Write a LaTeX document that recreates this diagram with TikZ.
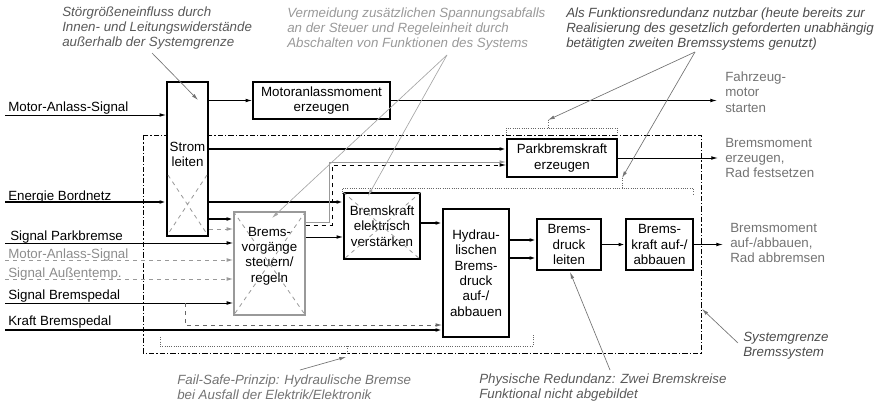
\documentclass[tikz,border=0pt]{standalone}
\usepackage{fontspec}
\setmainfont{Liberation Sans}
\usetikzlibrary{arrows.meta}
\newcommand{\pxu}{0.75pt}

\tikzset{
  blk/.style={draw, fill=white, line width=1.2pt, align=center, inner sep=0pt},
  grblk/.style={draw=black!40, fill=white, line width=1pt, inner sep=0pt},
  kreuz/.style={draw=black!40, dashed, line width=0.6pt},
  pfeil/.style={-{Latex[length=5pt,width=2.8pt]}, line width=0.7pt},
  dickpfeil/.style={pfeil, line width=1.4pt},
  sigdash/.style={pfeil, dashed, draw=black!40},
  grenze/.style={line width=0.7pt, dash pattern=on 4pt off 1.6pt on 0.8pt off 1.6pt},
  klammer/.style={draw=black!60, densely dotted, line width=0.7pt},
  anm/.style={font=\fontsize{10}{11.5}\selectfont\itshape, align=left, anchor=west, inner sep=0pt},
  anmlinie/.style={draw=black!55, line width=0.5pt, -{Latex[length=5pt,width=2.6pt]}},
  ausg/.style={text=black!55, align=left, anchor=west, inner sep=0pt},
  eing/.style={anchor=base west, inner sep=0pt},
}

\begin{document}
\begin{tikzpicture}[x=\pxu, y=-\pxu, font=\fontsize{10}{11.5}\selectfont]
    \useasboundingbox (0,0) rectangle (884,406);

    % 系统边界
    \draw[grenze] (143,135) rectangle (701,353);

    % 定义方框
    \node[blk, minimum width=41*\pxu, minimum height=154*\pxu] (strom) at (187.5,159) {};
    \node[align=center] (stromtxt) at (187.5,154.5) {Strom\\leiten};
    \node[blk, minimum width=137*\pxu, minimum height=37*\pxu] (motor) at (321.5,100.5) {Motoranlassmoment\\erzeugen};
    \node[blk, minimum width=110*\pxu, minimum height=38*\pxu] (park) at (562,158) {Parkbremskraft\\erzeugen};
    \node[grblk, minimum width=71*\pxu, minimum height=103*\pxu] (vorg) at (269.5,263.5) {};
    \node[align=center] (vorgtxt) at (269.5,256) {Brems-\\vorgänge\\steuern/\\regeln};
    \node[blk, minimum width=76*\pxu, minimum height=66*\pxu] (verst) at (382,226) {Bremskraft\\elektrisch\\verstärken};
    \node[blk, minimum width=66*\pxu, minimum height=128*\pxu] (hydr) at (476,273) {Hydrau-\\lischen\\Brems-\\druck\\auf-/\\abbauen};
    \node[blk, minimum width=64*\pxu, minimum height=51*\pxu] (druck) at (569,244.5) {Brems-\\druck\\leiten};
    \node[blk, minimum width=67*\pxu, minimum height=51*\pxu] (kraft) at (659.5,244.5) {Brems-\\kraft auf-/\\abbauen};

    % 虚线叉
    \draw[kreuz] (168,175) -- (207,234) (207,175) -- (168,234);
    \draw[kreuz] (vorg.north west) -- (vorg.south east) (vorg.north east) -- (vorg.south west);
    \draw[kreuz] (verst.north west) -- (verst.south east) (verst.north east) -- (verst.south west);

    % 输入信号
    \coordinate (e1) at (5,115);
    \coordinate (e2) at (5,202);
    \coordinate (e3) at (5,243);
    \coordinate (e4) at (5,260);
    \coordinate (e5) at (5,279);
    \coordinate (e6) at (5,303);
    \coordinate (e7) at (5,330);
    \coordinate (abzw) at (185,303);
    \node[eing] (l1) at (8,112) {Motor-Anlass-Signal};
    \node[eing] (l2) at (8,200) {Energie Bordnetz};
    \node[eing] (l3) at (10,240) {Signal Parkbremse};
    \node[eing, text=black!45] (l4) at (8,258) {Motor-Anlass-Signal};
    \node[eing, text=black!45] (l5) at (8,277) {Signal Außentemp.};
    \node[eing] (l6) at (8,299) {Signal Bremspedal};
    \node[eing] (l7) at (8,325) {Kraft Bremspedal};
    \draw[pfeil] (e1) -- (e1 -| strom.west);
    \draw[dickpfeil] (e2) -- (e2 -| strom.west);
    \draw[pfeil] (e3) -- (e3 -| vorg.west);
    \draw[sigdash] (e4) -- (e4 -| vorg.west);
    \draw[sigdash] (e5) -- (e5 -| vorg.west);
    \draw[pfeil] (e6) -- (e6 -| vorg.west);
    \draw[dickpfeil] (e7) -- (e7 -| hydr.west);
    \draw[pfeil, dashed, draw=black!60] (abzw) |- (hydr.west |- 0,325);

    % 内部连接
    \draw[pfeil] (strom.east |- motor.west) -- (motor.west);
    \draw[dickpfeil] (strom.east |- 0,149) -- (park.west |- 0,149);
    \draw[dickpfeil] (strom.east |- 0,202) -- (verst.west |- 0,202);
    \draw[dickpfeil] (strom.east |- 0,219) -- (vorg.west |- 0,219);
    \draw[sigdash] (strom.east |- 0,229) -- (vorg.west |- 0,229);
    \draw[pfeil] (vorg.east |- 0,237) -- (verst.west |- 0,237);
    \draw[pfeil, draw=black!40] (vorg.east |- 0,222) -| (329,162) -- (park.west |- 0,162);
    \draw[pfeil, dashed] (vorg.east |- 0,225) -| (332,165) -- (park.west |- 0,165);
    \draw[dickpfeil] (verst.east |- 0,223) -- (hydr.west |- 0,223);
    \draw[dickpfeil] (hydr.east |- 0,240) -- (druck.west |- 0,240);
    \draw[dickpfeil] (hydr.east |- 0,258) -- (druck.west |- 0,258);
    \draw[dickpfeil] (druck.east) -- (kraft.west);

    % 输出
    \coordinate (a1) at (717,100.5);
    \coordinate (a2) at (718,158);
    \coordinate (a3) at (723,244.5);
    \draw[pfeil] (motor.east) -- (a1);
    \draw[pfeil] (park.east) -- (a2);
    \draw[pfeil] (kraft.east) -- (a3);
    \node[ausg] (a1txt) at (725,92) {Fahrzeug-\\motor\\starten};
    \node[ausg] (a2txt) at (725,158) {Bremsmoment\\erzeugen,\\Rad festsetzen};
    \node[ausg] (a3txt) at (730,243) {Bremsmoment\\auf-/abbauen,\\Rad abbremsen};

    % 点线括号
    \draw[klammer] (506,135) |- (617,128) -- (617,135) (548,120) -- (548,128);
    \draw[klammer] (342,194) |- (693,188) -- (693,194) (622,178) -- (622,188);
    \draw[klammer] (160,337) |- (533,346) -- (533,335) (347,346) -- (347,355);

    % 注释
    \node[anm, text=black!65] (anm1) at (62,28) {Störgrößeneinfluss durch\\Innen- und Leitungswiderstände\\außerhalb der Systemgrenze};
    \node[anm, text=black!40] (anm2) at (287,29) {Vermeidung zusätzlichen Spannungsabfalls\\an der Steuer und Regeleinheit durch\\Abschalten von Funktionen des Systems};
    \node[anm, text=black!70] (anm3) at (566,29) {Als Funktionsredundanz nutzbar (heute bereits zur\\Realisierung des gesetzlich geforderten unabhängig\\betätigten zweiten Bremssystems genutzt)};
    \node[anm, text=black!55] (anm4) at (177,387.5) {Fail-Safe-Prinzip: Hydraulische Bremse\\bei Ausfall der Elektrik/Elektronik};
    \node[anm, text=black!65] (anm5) at (479,387.5) {Physische Redundanz: Zwei Bremskreise\\Funktional nicht abgebildet};
    \node[anm, text=black!70] (anm6) at (743,345.5) {Systemgrenze\\Bremssystem};

    % 注释箭头
    \coordinate (p1) at (152,53);
    \coordinate (t1) at (198,100);
    \coordinate (p2) at (447,55);
    \coordinate (t2a) at (272,218);
    \coordinate (t2b) at (368,196);
    \coordinate (p3) at (695,52);
    \coordinate (t3a) at (548,120);
    \coordinate (t3b) at (622,178);
    \coordinate (p4) at (300,370);
    \coordinate (t4) at (346,357);
    \coordinate (p5) at (610,370);
    \coordinate (t5) at (570,272);
    \coordinate (p6) at (738,343);
    \coordinate (t6) at (702,309);
    \draw[anmlinie] (p1) -- (t1);
    \draw[anmlinie, draw=black!35] (p2) -- (t2a);
    \draw[anmlinie, draw=black!35] (p2) -- (t2b);
    \draw[anmlinie] (p3) -- (t3a);
    \draw[anmlinie] (p3) -- (t3b);
    \draw[anmlinie] (p4) -- (t4);
    \draw[anmlinie] (p5) -- (t5);
    \draw[anmlinie] (p6) -- (t6);
\end{tikzpicture}
\end{document}
